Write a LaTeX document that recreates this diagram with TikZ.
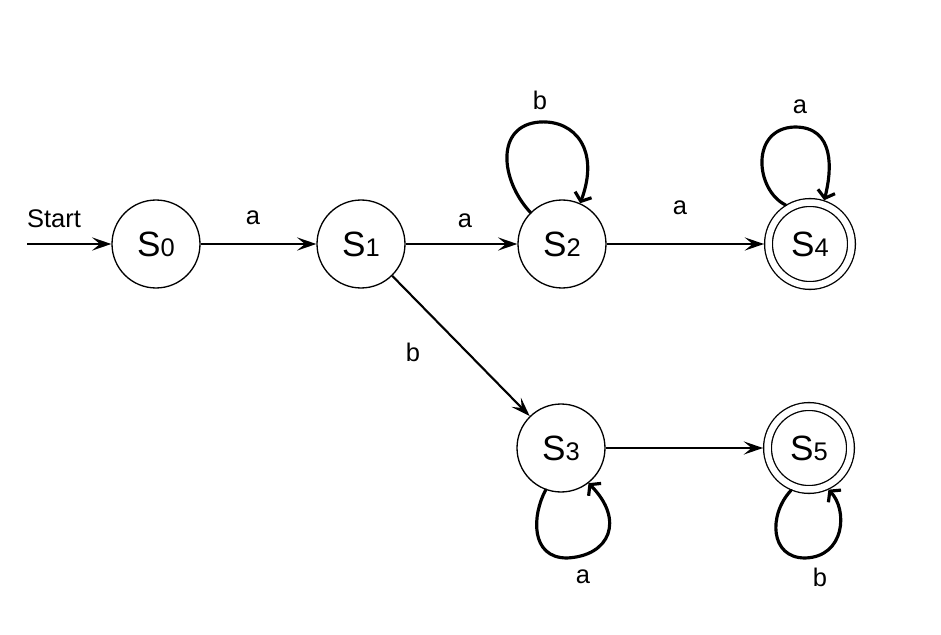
\documentclass[tikz,border=0pt]{standalone}
\usepackage{fontspec}
\setmainfont{Liberation Sans}
\usepackage{tikz}
\usetikzlibrary{arrows.meta}
\tikzset{every node/.append style={font=\fontsize{14.5}{16}\selectfont}}
\newcommand{\stname}[1]{{\fontsize{20}{22}\selectfont S}{\fontsize{14.5}{16}\selectfont #1}}

\begin{document}
\begin{tikzpicture}[x=0.02cm, y=-0.02cm, >={Stealth[length=11pt, width=7.5pt, inset=4.5pt]},
    state/.style={circle, draw, line width=0.75pt, minimum size=1.76cm, inner sep=0pt},
    accept/.style={state, double, double distance=0.13cm, minimum size=1.66cm, outer sep=0.09cm},
    edge/.style={->, line width=1.2pt},
    selfloop/.style={-{Straight Barb[length=4pt, width=10pt]}, line width=1.8pt, line cap=round, line join=round}]
    \useasboundingbox (0,0) rectangle (941,635);
    % states
    \node[state] (s0) at (156,244) {\stname{0}};
    \node[state] (s1) at (361,244) {\stname{1}};
    \node[state] (s2) at (562,244) {\stname{2}};
    \node[accept] (s4) at (810,244) {\stname{4}};
    \node[state] (s3) at (561,448) {\stname{3}};
    \node[accept] (s5) at (809,448) {\stname{5}};
    % start arrow
    \coordinate (start) at (27,244);
    \node (startlbl) at (54,219) {Start};
    \draw[edge] (start) -- (s0);
    % transitions
    \draw[edge] (s0) -- (s1);
    \draw[edge] (s1) -- (s2);
    \draw[edge] (s2) -- (s4);
    \draw[edge] (s1) -- (s3);
    \draw[edge] (s3) -- (s5);
    \node (l01) at (253,218) {a};
    \node (l12) at (465,221) {a};
    \node (l24) at (680,208) {a};
    \node (l13) at (413,352) {b};
    % self loops
    \draw[selfloop] (s2.135) .. controls (500,180) and (495,125) .. (540,122)
        .. controls (575,120) and (600,150) .. (s2.66);
    \draw[selfloop] (s4.122) .. controls (755,190) and (750,128) .. (795,127)
        .. controls (835,127) and (832,170) .. (s4.72);
    \draw[selfloop] (s3.-110) .. controls (532,515) and (530,558) .. (567,558)
        .. controls (610,556) and (625,520) .. (s3.-52);
    \draw[selfloop] (s5.-113) .. controls (768,515) and (770,558) .. (805,558)
        .. controls (845,557) and (848,510) .. (s5.-65);
    \node (l22) at (540,100) {b};
    \node (l44) at (800,107) {a};
    \node (l33) at (583,577) {a};
    \node (l55) at (820,577) {b};
\end{tikzpicture}
\end{document}
